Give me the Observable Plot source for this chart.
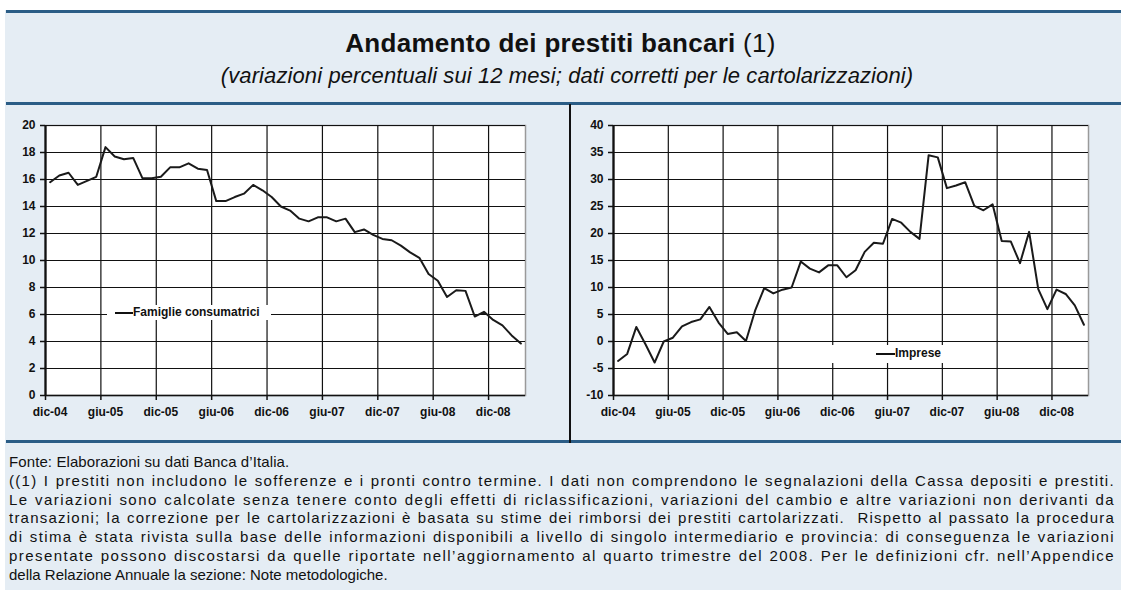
<!DOCTYPE html>
<html><head><meta charset="utf-8">
<script src="https://cdn.jsdelivr.net/npm/d3@7"></script>
<script src="https://cdn.jsdelivr.net/npm/@observablehq/plot@0.6"></script>
<style>
html,body{margin:0;padding:0;}
body{width:1121px;height:590px;overflow:hidden;position:relative;background:#fff;font-family:"Liberation Sans",Arial,sans-serif;color:#111;}
#bg{position:absolute;left:5px;top:10px;right:0;bottom:0;background:#e5edf4;}
.hline{position:absolute;left:6px;right:0;height:3px;background:#2b5d86;}
#title{position:absolute;left:0;width:1121px;top:28px;text-align:center;font-size:26px;line-height:30px;letter-spacing:0.3px;}
#title b{font-weight:bold;}
#subtitle{position:absolute;left:0;width:1134px;top:63px;text-align:center;font-size:22px;line-height:26px;font-style:italic;letter-spacing:0.1px;}
#divider{position:absolute;left:569px;top:104px;width:2px;height:339px;background:#111;}
.panel{position:absolute;top:110px;}
.legend{position:absolute;background:#fff;font-size:12px;font-weight:bold;line-height:15px;white-space:nowrap;}
.legend .sw{position:absolute;height:2px;background:#111;}
#footer{position:absolute;left:9px;width:1106px;top:453px;font-size:15px;line-height:18.8px;}
#footer div{white-space:nowrap;text-align:left;}
#footer div.fit{text-align:justify;text-align-last:justify;}
</style>
</head><body>
<div id="bg"></div>
<div class="hline" style="top:10px"></div>
<div class="hline" style="top:102px"></div>
<div class="hline" style="top:440px"></div>
<div id="title"><b>Andamento dei prestiti bancari</b> (1)</div>
<div id="subtitle">(variazioni percentuali sui 12 mesi; dati corretti per le cartolarizzazioni)</div>
<div id="left" class="panel" style="left:0px"></div>
<div id="right" class="panel" style="left:560px"></div>
<div id="divider"></div>
<div class="legend" style="left:107px;top:305px;width:164px;height:15px;">
  <div class="sw" style="left:8px;width:18px;top:7px"></div>
  <span style="position:absolute;left:26px;top:0">Famiglie consumatrici</span>
</div>
<div class="legend" style="left:824px;top:345px;width:131px;height:18px;">
  <div class="sw" style="left:52px;width:19px;top:8px"></div>
  <span style="position:absolute;left:71px;top:1px">Imprese</span>
</div>
<div id="footer">
  <div style="letter-spacing:0.1px">Fonte: Elaborazioni su dati Banca d’Italia.</div>
  <div class="fit"><span>((1) I prestiti non includono le sofferenze e i pronti contro termine. I dati non comprendono le segnalazioni della Cassa depositi e prestiti.</span></div>
  <div class="fit"><span>Le variazioni sono calcolate senza tenere conto degli effetti di riclassificazioni, variazioni del cambio e altre variazioni non derivanti da</span></div>
  <div class="fit"><span>transazioni; la correzione per le cartolarizzazioni è basata su stime dei rimborsi dei prestiti cartolarizzati.&nbsp; Rispetto al passato la procedura</span></div>
  <div class="fit"><span>di stima è stata rivista sulla base delle informazioni disponibili a livello di singolo intermediario e provincia: di conseguenza le variazioni</span></div>
  <div class="fit"><span>presentate possono discostarsi da quelle riportate nell’aggiornamento al quarto trimestre del 2008. Per le definizioni cfr. nell’Appendice</span></div>
  <div>della Relazione Annuale la sezione: Note metodologiche.</div>
</div>
<script>
// Monthly categories, Dec 2004 – Mar 2009
const months = ["dic-04","gen-05","feb-05","mar-05","apr-05","mag-05","giu-05","lug-05","ago-05","set-05","ott-05","nov-05",
  "dic-05","gen-06","feb-06","mar-06","apr-06","mag-06","giu-06","lug-06","ago-06","set-06","ott-06","nov-06",
  "dic-06","gen-07","feb-07","mar-07","apr-07","mag-07","giu-07","lug-07","ago-07","set-07","ott-07","nov-07",
  "dic-07","gen-08","feb-08","mar-08","apr-08","mag-08","giu-08","lug-08","ago-08","set-08","ott-08","nov-08",
  "dic-08","gen-09","feb-09","mar-09"];
const tickLabels = ["dic-04","giu-05","dic-05","giu-06","dic-06","giu-07","dic-07","giu-08","dic-08"];

const famiglie = [15.8,16.3,16.5,15.6,15.9,16.2,18.4,17.7,17.5,17.6,16.1,16.1,
  16.2,16.9,16.9,17.2,16.8,16.7,14.4,14.4,14.7,14.95,15.6,15.2,
  14.7,14.0,13.7,13.1,12.9,13.2,13.2,12.9,13.1,12.1,12.3,11.9,
  11.6,11.5,11.1,10.6,10.2,9.0,8.5,7.3,7.8,7.75,5.85,6.2,
  5.6,5.2,4.45,3.85];
const imprese = [-3.6,-2.3,2.7,-0.5,-3.9,0.0,0.7,2.8,3.6,4.1,6.4,3.5,
  1.4,1.7,0.1,5.7,9.9,8.9,9.6,10.0,14.8,13.5,12.8,14.1,
  14.1,11.9,13.2,16.6,18.3,18.1,22.7,22.0,20.3,19.0,34.5,34.1,
  28.4,28.9,29.5,25.1,24.3,25.4,18.6,18.5,14.5,20.3,9.7,6.0,
  9.6,8.8,6.7,3.1];
const famiglieTicks = [0,2,4,6,8,10,12,14,16,18,20];
const impreseTicks = [-10,-5,0,5,10,15,20,25,30,35,40];

function panel(values, yTicks, width, marginLeft, marginRight) {
  const data = values.map((v, i) => ({month: months[i], pos: i + 0.5, v}));
  const tickPos = tickLabels.map(l => months.indexOf(l));
  const fmt = d => tickLabels[tickPos.indexOf(d)];
  const yMin = yTicks[0], yMax = yTicks[yTicks.length - 1];
  return Plot.plot({
    width, height: 320,
    marginTop: 15, marginBottom: 35, marginLeft, marginRight,
    style: {background: "transparent", fontFamily: "'Liberation Sans', Arial, sans-serif", fontSize: "12px", fontWeight: "bold", color: "#111", overflow: "visible"},
    x: {domain: [0, months.length], type: "linear", label: null},
    y: {domain: [yMin, yMax], label: null},
    marks: [
      Plot.frame({fill: "white", stroke: "#9a9a9a", strokeWidth: 1.5}),
      Plot.gridX(tickPos, {stroke: "#111", strokeOpacity: 1, strokeWidth: 1.2}),
      Plot.gridY(yTicks, {stroke: "#111", strokeOpacity: 1, strokeWidth: 1.2}),
      Plot.axisX(tickPos, {tickSize: 5, text: null, label: null, stroke: "#111", strokeWidth: 1.5}),
      Plot.axisX(tickPos, {tickSize: 0, tickPadding: 12, tickFormat: fmt, dx: 4.6, fill: "#111", fontWeight: "bold", label: null}),
      Plot.axisY(yTicks, {tickSize: 5, tickPadding: 5, tickFormat: d => String(d), stroke: "#111", strokeWidth: 1.5, fill: "#111", fontWeight: "bold", label: null}),
      Plot.ruleY([yMin], {stroke: "#111", strokeWidth: 1.5}),
      Plot.ruleX([0], {stroke: "#111", strokeWidth: 2.2}),
      Plot.line(data, {x: "pos", y: "v", stroke: "#1a1a1a", strokeWidth: 2, strokeLinejoin: "round"})
    ]
  });
}

document.getElementById("left").appendChild(panel(famiglie, famiglieTicks, 560, 45, 35));
document.getElementById("right").appendChild(panel(imprese, impreseTicks, 561, 53, 33));

// Fit justified footer lines so word gaps stay close to natural spacing
const footerWidth = 1106;
document.querySelectorAll("#footer div.fit").forEach(div => {
  const span = div.querySelector("span");
  div.style.textAlignLast = "left";
  div.style.letterSpacing = "0px";
  const w = span.getBoundingClientRect().width;
  const n = span.textContent.length;
  const spaces = (span.textContent.match(/\s/g) || []).length;
  const ls = Math.max(0, (footerWidth - w - spaces * 0.8) / n);
  div.style.letterSpacing = ls.toFixed(3) + "px";
  div.style.textAlignLast = "justify";
});
</script>
</body></html>
